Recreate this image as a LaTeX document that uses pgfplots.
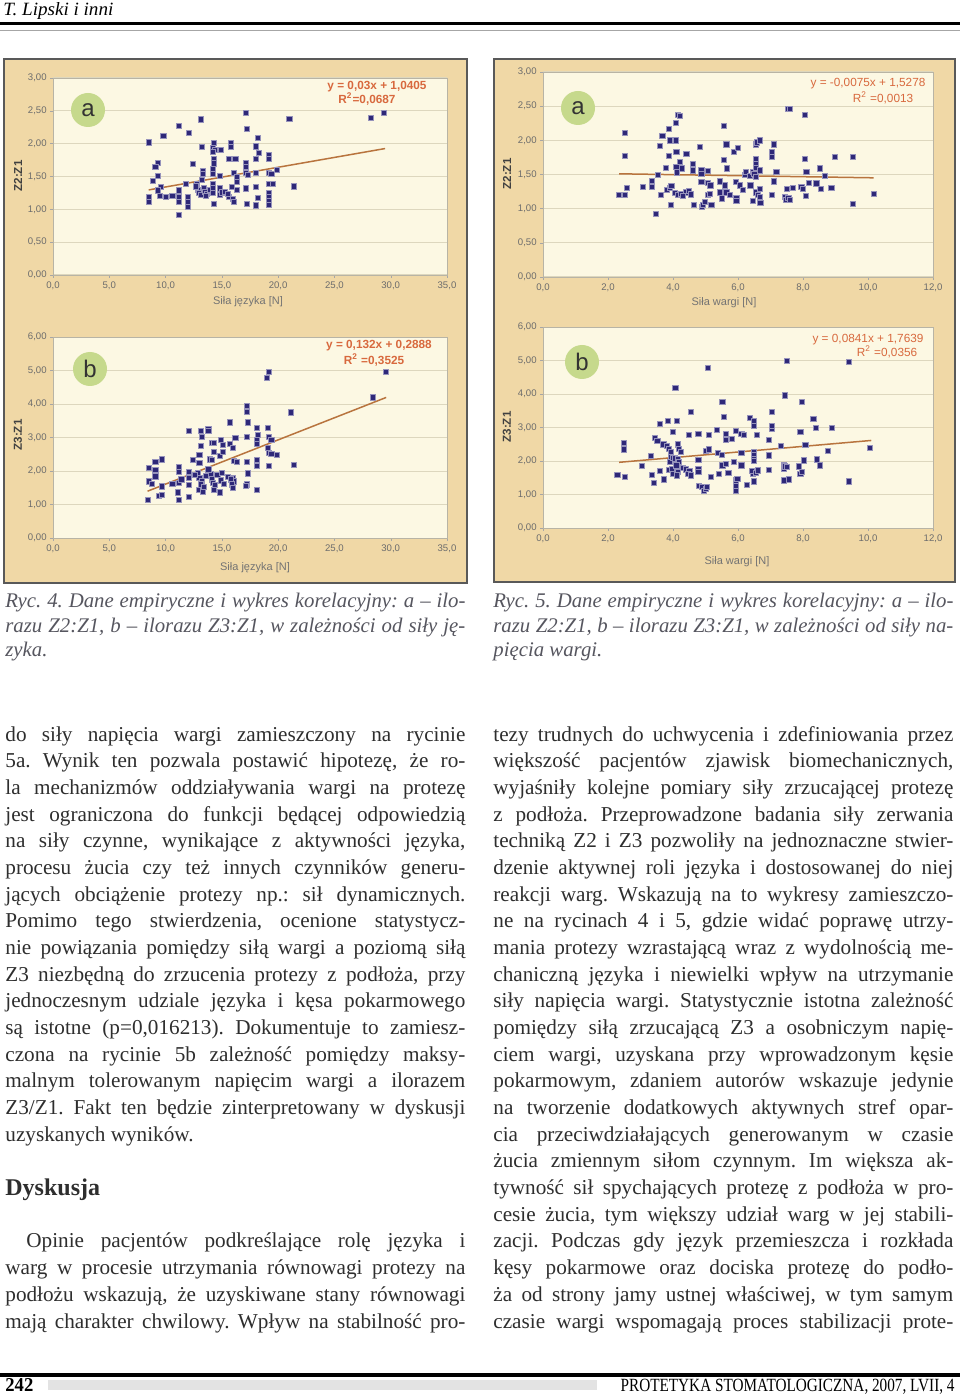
\documentclass[border=0pt]{standalone}
\usepackage{pgfplots}
\pgfplotsset{compat=1.18}
\usepackage{fontspec}
\setmainfont{Liberation Serif}
\setsansfont{Liberation Sans}
\usepackage{graphicx}
\frenchspacing

\definecolor{tanc}{HTML}{F0D8A6}
\definecolor{cream}{HTML}{FCF8E3}
\definecolor{gridc}{HTML}{DDD7BE}
\definecolor{ptc}{HTML}{2E2878}
\definecolor{trendc}{HTML}{B8743E}
\definecolor{eqc}{HTML}{D8693E}
\definecolor{circc}{HTML}{C6D98C}
\definecolor{bodyc}{HTML}{2E2E2E}
\definecolor{capc}{HTML}{56565F}

\pgfplotsset{
 myax/.style={
  scale only axis, anchor=south west,
  axis background/.style={fill=cream},
  axis line style={draw=gridc!60!gray},
  ymajorgrids, grid style={draw=gridc, line width=0.5pt},
  tick pos=left, tick align=outside, major tick length=1.5pt,
  tick style={draw=gray!70},
  ticklabel style={font=\sffamily\fontsize{4.8}{5}\selectfont, text=gray!85!black, inner sep=1.5pt},
  /pgf/number format/assume math mode=true,
  /pgf/number format/use comma,
  xticklabel style={/pgf/number format/.cd, fixed, fixed zerofill, precision=1},
  yticklabel style={/pgf/number format/.cd, fixed, fixed zerofill, precision=2},
 },
 pts/.style={only marks, mark=square*, mark size=1.3pt, mark options={fill=ptc, draw=ptc!50!white, line width=0.35pt}},
 trend/.style={no marks, draw=trendc, line width=0.75pt},
}

\newcommand\J[1]{\hbox to 230pt{#1}}
\newcommand\N[1]{\hbox{#1}}

\begin{document}
\begin{tikzpicture}
\path[use as bounding box] (0,0) rectangle (480pt,-697.5pt);
\fill[white] (0,0) rectangle (480pt,-697.5pt);

\begin{scope}[x=0.5pt,y=-0.5pt]
\fill[tanc,draw=black!65,line width=0.8pt] (4,59) rectangle (467,583);
\fill[tanc,draw=black!65,line width=0.8pt] (494,59) rectangle (955,582);
\end{scope}

% ---------- Ryc. 4a ----------
\begin{axis}[myax, at={(26.5pt,-137.5pt)}, width=197pt, height=98.5pt,
  xmin=0, xmax=35, ymin=0, ymax=3,
  xtick={0,5,10,15,20,25,30,35}, ytick={0,0.5,1,1.5,2,2.5,3}]
\addplot[pts] coordinates {
(8.5,2.02) (17.1,2.47) (13.1,2.37) (11.2,2.27) (12.1,2.17) (9.8,2.12) (17.2,2.22)
(21.0,2.38) (28.2,2.39) (29.4,2.47) (18.2,2.09) (15.8,2.01) (15.8,1.95) (14.3,2.01)
(14.2,1.94) (14.4,1.90) (14.2,1.87) (13.2,1.95) (14.9,1.90) (18.0,1.96) (18.3,1.86)
(18.0,1.77) (19.2,1.83) (19.2,1.77) (15.6,1.77) (16.2,1.77) (14.3,1.77) (14.3,1.70)
(12.4,1.69) (9.3,1.71) (9.1,1.65) (9.3,1.51) (8.9,1.43) (17.1,1.71) (17.1,1.65)
(17.1,1.56) (17.3,1.52) (18.0,1.56) (19.2,1.56) (19.4,1.54) (19.9,1.60) (14.2,1.62)
(14.2,1.54) (13.3,1.59) (13.3,1.54) (14.8,1.51) (16.1,1.56) (16.3,1.49) (16.3,1.42)
(21.4,1.35) (19.2,1.39) (19.5,1.39) (18.0,1.34) (17.1,1.32) (19.2,1.25) (19.2,1.19)
(19.2,1.13) (19.2,1.07) (18.2,1.17) (17.2,1.08) (18.0,1.06) (11.8,1.39) (9.6,1.34)
(9.3,1.29) (9.5,1.21) (10.0,1.19) (8.5,1.19) (8.5,1.11) (10.6,1.21) (11.2,1.29)
(11.2,1.19) (11.2,1.11) (12.0,1.19) (12.0,1.11) (12.0,1.04) (11.2,0.91) (12.8,1.38)
(12.9,1.30) (13.0,1.25) (13.1,1.22) (13.4,1.32) (13.5,1.27) (13.7,1.24) (13.6,1.20)
(13.9,1.30) (14.2,1.39) (14.2,1.32) (14.2,1.25) (14.3,1.08) (14.8,1.32) (14.8,1.22)
(15.0,1.26) (15.3,1.27) (15.6,1.19) (15.9,1.34) (16.0,1.16) (16.1,1.11) (15.5,1.23)
(16.3,1.30) (13.2,1.45) (12.7,1.35)
};
\addplot[trend] coordinates {(8.5,1.2955) (29.5,1.9255)};
\end{axis}

% ---------- Ryc. 4b ----------
\begin{axis}[myax, at={(26.5pt,-269pt)}, width=197pt, height=100.5pt,
  xmin=0, xmax=35, ymin=0, ymax=6,
  xtick={0,5,10,15,20,25,30,35}, ytick={0,1,2,3,4,5,6}]
\addplot[pts] coordinates {
(19.2,4.96) (19.0,4.79) (29.6,4.96) (28.4,4.20) (21.1,3.75) (17.2,3.94) (17.2,3.76)
(15.7,3.45) (17.3,3.45) (18.1,3.30) (19.1,3.29) (12.1,3.19) (13.1,3.19) (13.2,3.03)
(13.8,3.25) (13.8,3.19) (17.2,3.03) (16.2,3.00) (18.2,3.07) (18.1,2.93) (18.1,2.81)
(19.2,3.03) (19.4,2.93) (13.1,2.76) (14.1,2.85) (14.3,2.85) (14.9,2.93) (15.1,2.78)
(15.7,2.81) (16.0,2.68) (19.1,2.68) (19.2,2.55) (19.4,2.51) (19.9,2.48) (13.0,2.48)
(13.0,2.25) (12.4,2.33) (13.9,2.35) (14.1,2.33) (14.3,2.58) (14.8,2.45) (15.1,2.58)
(16.1,2.30) (16.3,2.28) (17.2,2.28) (18.1,2.33) (18.1,2.16) (19.2,2.16) (21.4,2.18)
(8.5,2.10) (9.1,2.28) (9.7,2.35) (9.1,2.03) (9.1,1.84) (11.2,2.13) (11.2,1.98)
(12.1,1.98) (8.5,1.69) (8.8,1.61) (9.7,1.54) (10.6,1.61) (11.2,1.65) (11.4,1.75)
(9.4,1.26) (9.7,1.29) (8.4,1.14) (11.2,1.14) (11.1,1.36) (12.1,1.24) (12.1,1.79)
(12.1,1.59) (17.2,1.60) (17.1,1.55) (18.1,1.44) (17.3,1.93) (16.0,1.79) (16.1,1.69)
(14.8,1.36) (14.3,1.44) (13.0,1.44) (13.3,1.39) (12.9,1.95) (13.0,1.80) (13.2,1.70)
(13.1,1.60) (13.4,1.52) (13.6,1.85) (14.0,1.90) (14.1,1.75) (14.2,1.65) (14.4,1.58)
(14.6,1.88) (14.9,1.72) (15.0,1.95) (15.2,1.62) (15.5,1.82) (15.8,1.75) (15.9,1.60)
(16.0,1.50) (12.6,1.88) (13.8,2.05)
};
\addplot[trend] coordinates {(8.4,1.3976) (29.6,4.1960)};
\end{axis}

% ---------- Ryc. 5a ----------
\begin{axis}[myax, at={(271.5pt,-138.5pt)}, width=195pt, height=102.5pt,
  xmin=0, xmax=12, ymin=0, ymax=3,
  xtick={0,2,4,6,8,10,12}, ytick={0,0.5,1,1.5,2,2.5,3}]
\addplot[pts] coordinates {
(2.34,1.20) (2.52,1.20) (2.52,2.11) (2.52,1.77) (2.58,1.31) (3.08,1.32) (3.36,1.32)
(3.36,1.41) (3.47,0.92) (3.54,1.50) (3.59,1.92) (3.67,2.07) (3.63,1.20) (3.79,1.60)
(3.88,2.17) (3.88,1.77) (3.90,2.00) (3.80,1.27) (3.90,1.30) (3.95,1.33) (3.93,1.06)
(4.08,2.00) (4.08,2.26) (4.15,2.37) (4.20,2.36) (4.10,1.83) (4.10,1.61) (4.13,1.53)
(4.20,1.68) (4.26,1.59) (4.05,1.23) (4.15,1.20) (4.25,1.22) (4.40,1.24) (4.48,1.26)
(4.56,1.21) (4.30,1.19) (4.41,1.80) (4.60,1.66) (4.62,1.56) (4.64,1.06) (4.82,1.90)
(4.87,1.56) (4.87,1.51) (4.87,1.39) (5.08,1.55) (5.08,1.38) (5.08,1.20) (5.13,1.22)
(4.88,1.03) (4.92,1.06) (4.97,1.10) (5.18,1.05) (5.15,1.34) (5.44,1.40) (5.44,1.24)
(5.50,1.15) (5.56,2.21) (5.57,1.71) (5.60,1.34) (5.64,1.94) (5.66,1.59) (5.64,1.24)
(5.74,1.20) (5.87,1.83) (6.00,1.89) (5.93,1.39) (5.95,1.16) (5.95,1.11) (6.05,1.34)
(6.15,1.27) (6.20,1.50) (6.25,1.54) (6.36,1.48) (6.38,1.34) (6.46,1.54) (6.50,1.51)
(6.46,1.11) (6.55,1.94) (6.58,1.97) (6.67,2.00) (6.56,1.73) (6.56,1.66) (6.56,1.60)
(6.56,1.46) (6.56,1.24) (6.62,1.20) (6.67,1.17) (6.67,1.56) (6.67,1.29) (6.69,1.08)
(7.03,1.83) (7.03,1.76) (7.10,1.94) (7.03,1.20) (7.10,1.40) (7.18,1.54) (7.44,1.17)
(7.47,1.13) (7.50,1.29) (7.55,1.16) (7.59,1.13) (7.54,2.46) (7.60,2.46) (7.69,1.31)
(7.95,1.32) (8.00,1.29) (8.05,2.37) (8.05,1.73) (8.10,1.54) (8.08,1.19) (8.18,1.38)
(8.41,1.37) (8.51,1.59) (8.56,1.29) (8.67,1.48) (8.87,1.31) (8.97,1.76) (9.54,1.76)
(9.54,1.07) (10.17,1.22)
};
\addplot[trend] coordinates {(2.34,1.5103) (10.17,1.4515)};
\end{axis}

% ---------- Ryc. 5b ----------
\begin{axis}[myax, at={(271.5pt,-264pt)}, width=195pt, height=100.5pt,
  xmin=0, xmax=12, ymin=0, ymax=6,
  xtick={0,2,4,6,8,10,12}, ytick={0,1,2,3,4,5,6}]
\addplot[pts] coordinates {
(2.29,1.59) (2.49,2.55) (2.49,2.35) (2.53,1.52) (3.04,1.85) (3.32,2.15) (3.34,1.59)
(3.42,1.34) (3.45,2.70) (3.52,2.59) (3.60,3.11) (3.60,1.71) (3.73,1.45) (3.70,2.50)
(3.80,2.45) (3.86,2.37) (3.93,2.27) (3.83,3.19) (3.90,1.97) (3.93,2.12) (3.86,1.74)
(4.00,2.87) (4.00,2.10) (4.05,2.08) (3.96,1.77) (4.00,1.62) (4.07,4.19) (4.12,3.19)
(4.14,2.50) (4.19,2.36) (4.24,2.27) (4.15,2.07) (4.19,1.97) (4.10,1.87) (4.15,1.67)
(4.12,1.57) (4.30,1.80) (4.40,1.75) (4.50,1.70) (4.45,1.62) (4.55,1.57) (4.55,3.46)
(4.49,2.79) (4.78,2.82) (4.78,1.77) (4.78,1.67) (4.78,2.04) (4.80,1.27) (4.88,1.22)
(4.95,1.12) (5.00,1.17) (5.03,1.22) (5.06,4.78) (5.11,2.77) (5.00,2.30) (5.10,2.35)
(5.16,1.52) (5.36,2.92) (5.39,2.25) (5.50,2.19) (5.41,1.62) (5.52,3.76) (5.57,3.31)
(5.52,1.87) (5.62,2.82) (5.62,2.62) (5.62,1.92) (5.70,1.64) (5.82,2.67) (5.87,1.97)
(5.93,2.89) (5.93,1.42) (5.93,1.27) (5.93,1.12) (5.98,1.47) (6.10,2.82) (6.18,2.78)
(6.10,2.25) (6.10,1.87) (6.28,1.29) (6.36,3.28) (6.49,3.21) (6.49,3.06) (6.49,2.27)
(6.49,2.17) (6.49,2.07) (6.49,2.00) (6.45,1.62) (6.43,1.70) (6.55,1.65) (6.60,1.72)
(6.49,1.39) (6.57,2.77) (6.95,2.62) (6.95,2.17) (6.95,1.74) (7.05,3.46) (7.03,2.97)
(7.05,3.04) (7.33,2.45) (7.44,3.96) (7.51,4.98) (7.40,1.77) (7.40,1.89) (7.45,1.84)
(7.50,1.82) (7.40,1.42) (7.56,1.45) (7.97,3.76) (7.92,2.87) (7.87,1.84) (7.92,1.62)
(7.97,1.67) (8.02,2.02) (8.07,2.49) (8.32,3.26) (8.40,2.99) (8.43,2.05) (8.53,1.87)
(8.76,2.30) (8.89,3.00) (9.40,4.96) (9.40,1.39) (10.06,2.39)
};
\addplot[trend] coordinates {(2.34,1.9607) (10.10,2.6133)};
\end{axis}

\begin{scope}[x=0.5pt,y=-0.5pt]
% chart annotations
\tikzset{ylab/.style={rotate=90, font=\sffamily\bfseries\fontsize{5.8}{6}\selectfont, text=black!75},
  xlab/.style={font=\sffamily\fontsize{5.5}{6}\selectfont, text=gray!90!black},
  eqL/.style={font=\sffamily\bfseries\fontsize{5.9}{6.5}\selectfont, text=eqc},
  eqR/.style={font=\sffamily\fontsize{5.9}{6.5}\selectfont, text=eqc},
  lett/.style={font=\sffamily\fontsize{12}{12}\selectfont, text=black!80}}
\node[ylab] at (18,176) {Z2:Z1};
\node[ylab] at (18,435) {Z3:Z1};
\node[ylab] at (507,174) {Z2:Z1};
\node[ylab] at (507,427) {Z3:Z1};
\node[xlab] at (248,302) {Siła języka [N]};
\node[xlab] at (255,568) {Siła języka [N]};
\node[xlab] at (724,303) {Siła wargi [N]};
\node[xlab] at (737,562) {Siła wargi [N]};
\node[eqL] at (377,87) {y = 0,03x + 1,0405};
\node[eqL] at (367,99) {R\textsuperscript{2}=0,0687};
\node[eqL] at (379,346) {y = 0,132x + 0,2888};
\node[eqL] at (374,360) {R\textsuperscript{2} =0,3525};
\node[eqR] at (868,84) {y = -0,0075x + 1,5278};
\node[eqR] at (883,98) {R\textsuperscript{2} =0,0013};
\node[eqR] at (868,340) {y = 0,0841x + 1,7639};
\node[eqR] at (887,352) {R\textsuperscript{2} =0,0356};
\fill[circc] (88,110) circle[radius=8.5pt];
\node[lett] at (88,110) {a};
\fill[circc] (90,369) circle[radius=8.5pt];
\node[lett] at (90,369) {b};
\fill[circc] (578,108) circle[radius=8.5pt];
\node[lett] at (578,108) {a};
\fill[circc] (582,362) circle[radius=8.5pt];
\node[lett] at (582,362) {b};

% header
\node[anchor=base west, inner sep=0] at (3,16) {\resizebox{55pt}{6.5pt}{\itshape T. Lipski i inni}};
\fill[black] (0,22) rectangle (960,25);
\fill[gray!70] (0,30) rectangle (960,31.5);

% footer
\fill[black] (0,1373) rectangle (960,1377);
\fill[gray!22] (48,1380) rectangle (597,1390);
\node[anchor=base west, inner sep=0] at (5,1391) {\resizebox{14pt}{6.5pt}{\bfseries 242}};
\node[anchor=base east, inner sep=0] at (955,1391) {\resizebox{167pt}{6.2pt}{PROTETYKA STOMATOLOGICZNA, 2007, LVII, 4}};

% captions
\tikzset{captxt/.style={anchor=base west, inner sep=0, font=\itshape\fontsize{10.4}{12}\selectfont, text=capc},
  bodytxt/.style={anchor=base west, inner sep=0, font=\fontsize{10.6}{12}\selectfont, text=bodyc}}
\node[captxt] at (5,607) {\J{Ryc. 4. Dane empiryczne i wykres korelacyjny: a – ilo-}};
\node[captxt] at (5,632) {\J{razu Z2:Z1, b – ilorazu Z3:Z1, w zależności od siły ję-}};
\node[captxt] at (5,656) {\N{zyka.}};
\node[captxt] at (493,607) {\J{Ryc. 5. Dane empiryczne i wykres korelacyjny: a – ilo-}};
\node[captxt] at (493,632) {\J{razu Z2:Z1, b – ilorazu Z3:Z1, w zależności od siły na-}};
\node[captxt] at (493,656) {\N{pięcia wargi.}};

% left column
\node[bodytxt] at (5,741.0) {\J{do siły napięcia wargi zamieszczony na rycinie}};
\node[bodytxt] at (5,767.7) {\J{5a. Wynik ten pozwala postawić hipotezę, że ro-}};
\node[bodytxt] at (5,794.4) {\J{la mechanizmów oddziaływania wargi na protezę}};
\node[bodytxt] at (5,821.0) {\J{jest ograniczona do funkcji będącej odpowiedzią}};
\node[bodytxt] at (5,847.7) {\J{na siły czynne, wynikające z aktywności języka,}};
\node[bodytxt] at (5,874.4) {\J{procesu żucia czy też innych czynników generu-}};
\node[bodytxt] at (5,901.1) {\J{jących obciążenie protezy np.: sił dynamicznych.}};
\node[bodytxt] at (5,927.8) {\J{Pomimo tego stwierdzenia, ocenione statystycz-}};
\node[bodytxt] at (5,954.4) {\J{nie powiązania pomiędzy siłą wargi a poziomą siłą}};
\node[bodytxt] at (5,981.1) {\J{Z3 niezbędną do zrzucenia protezy z podłoża, przy}};
\node[bodytxt] at (5,1007.8) {\J{jednoczesnym udziale języka i kęsa pokarmowego}};
\node[bodytxt] at (5,1034.5) {\J{są istotne (p=0,016213). Dokumentuje to zamiesz-}};
\node[bodytxt] at (5,1061.2) {\J{czona na rycinie 5b zależność pomiędzy maksy-}};
\node[bodytxt] at (5,1087.8) {\J{malnym tolerowanym napięcim wargi a ilorazem}};
\node[bodytxt] at (5,1114.5) {\J{Z3/Z1. Fakt ten będzie zinterpretowany w dyskusji}};
\node[bodytxt] at (5,1141.2) {\N{uzyskanych wyników.}};
\node[anchor=base west, inner sep=0, font=\bfseries\fontsize{12}{14}\selectfont, text=bodyc] at (5,1195) {Dyskusja};
\node[bodytxt] at (5,1247.9) {\J{\hspace{10.5pt}Opinie pacjentów podkreślające rolę języka i}};
\node[bodytxt] at (5,1274.6) {\J{warg w procesie utrzymania równowagi protezy na}};
\node[bodytxt] at (5,1301.3) {\J{podłożu wskazują, że uzyskiwane stany równowagi}};
\node[bodytxt] at (5,1328.0) {\J{mają charakter chwilowy. Wpływ na stabilność pro-}};

% right column
\node[bodytxt] at (493,741.0) {\J{tezy trudnych do uchwycenia i zdefiniowania przez}};
\node[bodytxt] at (493,767.7) {\J{większość pacjentów zjawisk biomechanicznych,}};
\node[bodytxt] at (493,794.4) {\J{wyjaśniły kolejne pomiary siły zrzucającej protezę}};
\node[bodytxt] at (493,821.0) {\J{z podłoża. Przeprowadzone badania siły zerwania}};
\node[bodytxt] at (493,847.7) {\J{techniką Z2 i Z3 pozwoliły na jednoznaczne stwier-}};
\node[bodytxt] at (493,874.4) {\J{dzenie aktywnej roli języka i dostosowanej do niej}};
\node[bodytxt] at (493,901.1) {\J{reakcji warg. Wskazują na to wykresy zamieszczo-}};
\node[bodytxt] at (493,927.8) {\J{ne na rycinach 4 i 5, gdzie widać poprawę utrzy-}};
\node[bodytxt] at (493,954.4) {\J{mania protezy wzrastającą wraz z wydolnością me-}};
\node[bodytxt] at (493,981.1) {\J{chaniczną języka i niewielki wpływ na utrzymanie}};
\node[bodytxt] at (493,1007.8) {\J{siły napięcia wargi. Statystycznie istotna zależność}};
\node[bodytxt] at (493,1034.5) {\J{pomiędzy siłą zrzucającą Z3 a osobniczym napię-}};
\node[bodytxt] at (493,1061.2) {\J{ciem wargi, uzyskana przy wprowadzonym kęsie}};
\node[bodytxt] at (493,1087.8) {\J{pokarmowym, zdaniem autorów wskazuje jedynie}};
\node[bodytxt] at (493,1114.5) {\J{na tworzenie dodatkowych aktywnych stref opar-}};
\node[bodytxt] at (493,1141.2) {\J{cia przeciwdziałających generowanym w czasie}};
\node[bodytxt] at (493,1167.9) {\J{żucia zmiennym siłom czynnym. Im większa ak-}};
\node[bodytxt] at (493,1194.6) {\J{tywność sił spychających protezę z podłoża w pro-}};
\node[bodytxt] at (493,1221.2) {\J{cesie żucia, tym większy udział warg w jej stabili-}};
\node[bodytxt] at (493,1247.9) {\J{zacji. Podczas gdy język przemieszcza i rozkłada}};
\node[bodytxt] at (493,1274.6) {\J{kęsy pokarmowe oraz dociska protezę do podło-}};
\node[bodytxt] at (493,1301.3) {\J{ża od strony jamy ustnej właściwej, w tym samym}};
\node[bodytxt] at (493,1328.0) {\J{czasie wargi wspomagają proces stabilizacji prote-}};
\end{scope}
\end{tikzpicture}
\end{document}
